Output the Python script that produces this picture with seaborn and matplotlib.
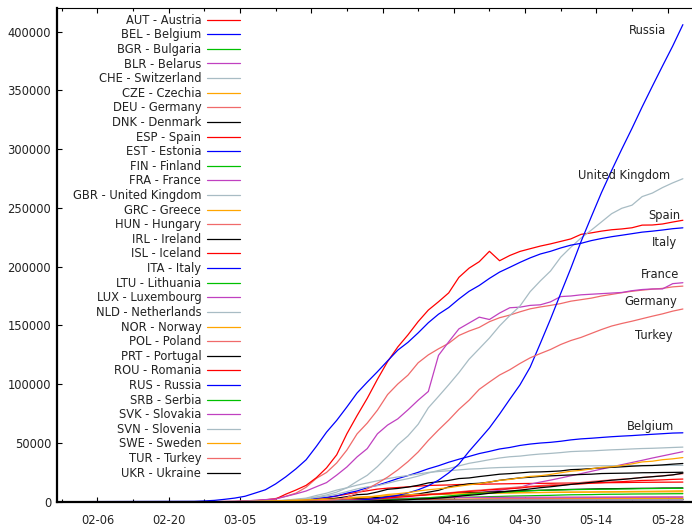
import numpy as np
import pandas as pd
import matplotlib
matplotlib.use("Agg")
import matplotlib.pyplot as plt
import seaborn as sns

# ── Dates: Jan 29, then every 2 days from Feb 25 to May 31 ────────────────────
dates = pd.to_datetime(["2020-01-29"]).append(pd.date_range("2020-02-25", "2020-05-31", freq="2D"))

# ── Cumulative confirmed cases ────────────────────────────────────────────────
AUT = [0, 2, 3, 9, 14, 29, 55, 104, 182, 302,
       655, 1018, 1646, 2388, 3244, 4876, 6398, 7995, 9284,
       10711, 11524, 12051, 12639, 13244, 13806, 14041, 14226, 14595, 14749, 14873, 15002, 15148, 15274, 15402,
       15531, 15621, 15684, 15774, 15833, 15882, 15961, 16058, 16201, 16269, 16404, 16486, 16539, 16591, 16628, 16685]
BEL = [0, 1, 1, 1, 8, 23, 109, 200, 267, 314,
       689, 1243, 1795, 2815, 3743, 4937, 7284, 9134, 11899,
       13964, 16770, 19691, 22194, 24983, 28018, 30589, 33573, 36138, 38496, 40956, 42797, 44858, 46134, 47859,
       49032, 49906, 50509, 51420, 52596, 53449, 53981, 54644, 55280, 55791, 56235, 56810, 57342, 57849, 58381, 58615]
BGR = [0, 0, 0, 0, 0, 0, 0, 4, 6, 7,
       41, 67, 92, 163, 201, 242, 264, 331, 359,
       422, 503, 531, 577, 635, 685, 713, 747, 846, 915, 975, 1097, 1247, 1363, 1447,
       1506, 1594, 1652, 1778, 1921, 1990, 2069, 2138, 2211, 2259, 2292, 2372, 2427, 2460, 2485, 2513]
BLR = [0, 0, 1, 1, 1, 6, 6, 6, 9, 12,
       27, 36, 51, 69, 76, 86, 94, 94, 152,
       152, 351, 562, 861, 1486, 2226, 3281, 4204, 4779, 6264, 7281, 8773, 9590, 11289, 12208,
       14917, 16705, 18350, 20168, 22052, 23906, 25825, 27730, 29650, 31508, 33371, 35208, 37144, 38956, 40764, 42556]
CHE = [0, 1, 8, 18, 42, 90, 214, 337, 491, 858,
       1359, 2200, 3028, 5294, 7245, 9877, 11811, 14076, 15922,
       17768, 19606, 21100, 22242, 23574, 24900, 25688, 26336, 27078, 27740, 28063, 28677, 29061, 29264, 29586,
       29817, 29981, 30060, 30207, 30305, 30380, 30463, 30572, 30618, 30694, 30746, 30796, 30845, 30874, 30913, 30936]
CZE = [0, 0, 0, 0, 3, 5, 12, 31, 41, 94,
       189, 298, 464, 833, 1120, 1497, 1925, 2631, 2990,
       3508, 4190, 4587, 5017, 5569, 5902, 6111, 6433, 6746, 6900, 7033, 7187, 7352, 7445, 7579,
       7689, 7781, 7859, 7979, 8095, 8176, 8269, 8406, 8459, 8586, 8721, 8799, 8890, 9002, 9140, 9268]
DEU = [0, 17, 46, 79, 159, 262, 670, 1040, 1457, 2745,
       4585, 7272, 12327, 19848, 24873, 32986, 43938, 57695, 66885,
       77872, 91159, 100123, 107663, 118181, 124908, 130072, 134753, 141397, 145184, 148291, 153129, 156513, 158758, 161539,
       164077, 165664, 167007, 168551, 170588, 171879, 173171, 174975, 176369, 177778, 179021, 179986, 180789, 181482, 182764, 183410]
DNK = [0, 0, 1, 3, 4, 10, 23, 35, 264, 674,
       836, 898, 1077, 1255, 1514, 1724, 2046, 2395, 2577,
       3107, 3757, 4369, 5071, 5597, 6191, 6511, 6879, 7384, 7695, 7912, 8210, 8575, 8851, 9158,
       9407, 9670, 9938, 10218, 10429, 10591, 10791, 10968, 11044, 11182, 11289, 11387, 11428, 11593, 11633, 11699]
ESP = [0, 6, 15, 45, 120, 165, 261, 674, 1695, 2277,
       6391, 9942, 13910, 20410, 28768, 39885, 57786, 73235, 87956,
       104118, 119199, 131646, 141942, 153222, 163027, 170099, 177644, 190839, 198674, 204178, 213024, 205000, 209465, 212917,
       215216, 217466, 219329, 221447, 223578, 227436, 228691, 230183, 231350, 232037, 233037, 235290, 235400, 236259, 237906, 239429]
EST = [0, 0, 1, 1, 1, 2, 10, 10, 13, 27,
       115, 205, 258, 283, 326, 369, 538, 645, 715,
       779, 961, 1097, 1185, 1258, 1304, 1373, 1434, 1512, 1535, 1552, 1605, 1647, 1660, 1689,
       1700, 1711, 1725, 1733, 1739, 1741, 1751, 1766, 1784, 1791, 1794, 1824, 1834, 1851, 1865, 1870]
FIN = [0, 1, 2, 3, 6, 6, 15, 23, 40, 109,
       225, 272, 359, 450, 626, 792, 958, 1167, 1352,
       1446, 1615, 1927, 2308, 2605, 2905, 3064, 3237, 3681, 3868, 4014, 4284, 4475, 4740, 4906,
       5051, 5254, 5412, 5673, 5880, 5962, 6054, 6228, 6347, 6399, 6537, 6599, 6628, 6692, 6776, 6826]
FRA = [0, 14, 38, 100, 191, 285, 653, 1209, 1784, 2284,
       4499, 6650, 9105, 12726, 16243, 22622, 29551, 38105, 45170,
       57749, 65202, 70478, 78167, 86334, 93790, 124500, 136000, 147000, 152000, 157000, 155000, 160500, 165000, 165500,
       167000, 167500, 170000, 174500, 175000, 176000, 176500, 177000, 177500, 178000, 179500, 180500, 181000, 181000, 185500, 186300]
GBR = [0, 13, 15, 23, 40, 86, 164, 273, 384, 596,
       1143, 1553, 2642, 4014, 5741, 8164, 11812, 17312, 22453,
       29865, 38689, 48436, 55949, 65872, 79874, 89570, 99483, 109769, 121172, 130172, 139246, 149569, 158348, 166441,
       178685, 187842, 196243, 207977, 216525, 224332, 230985, 237972, 244995, 249619, 252246, 259559, 262547, 267240, 271222, 274762]
GRC = [0, 1, 3, 7, 7, 9, 45, 73, 89, 99,
       228, 331, 418, 495, 624, 743, 892, 1061, 1212,
       1415, 1613, 1735, 1832, 1955, 2011, 2145, 2192, 2224, 2235, 2401, 2463, 2506, 2534, 2591,
       2612, 2626, 2663, 2691, 2716, 2744, 2760, 2810, 2834, 2840, 2853, 2873, 2878, 2892, 2909, 2917]
HUN = [0, 0, 0, 0, 0, 2, 4, 9, 12, 16,
       30, 39, 58, 85, 131, 187, 261, 343, 447,
       525, 623, 733, 817, 980, 1310, 1458, 1579, 1763, 1916, 2098, 2284, 2443, 2559, 2727,
       2863, 2998, 3065, 3178, 3263, 3313, 3380, 3473, 3509, 3556, 3598, 3713, 3756, 3793, 3841, 3876]
IRL = [0, 0, 0, 1, 1, 6, 18, 21, 34, 70,
       129, 223, 557, 683, 906, 1329, 1819, 2415, 2910,
       3447, 4273, 4994, 5709, 6574, 8089, 9655, 12547, 13980, 15251, 15652, 16671, 18184, 19262, 20253,
       20833, 21506, 21983, 22385, 22760, 23135, 23401, 23956, 24112, 24251, 24391, 24639, 24698, 24841, 24929, 25062]
ISL = [0, 0, 0, 1, 6, 26, 45, 55, 81, 117,
       156, 180, 250, 409, 568, 648, 802, 963, 1086,
       1220, 1364, 1486, 1616, 1675, 1701, 1711, 1727, 1754, 1771, 1778, 1789, 1790, 1795, 1797,
       1799, 1799, 1801, 1801, 1802, 1802, 1802, 1802, 1802, 1803, 1803, 1804, 1804, 1804, 1805, 1805]
ITA = [0, 322, 655, 1128, 2036, 3089, 4636, 7375, 10149, 15113,
       21157, 27980, 35713, 47021, 59138, 69176, 80589, 92472, 101739,
       110574, 119827, 128948, 135586, 143626, 152271, 159516, 165155, 172434, 178972, 183957, 189973, 195351, 199414, 203591,
       207428, 210717, 213013, 215858, 218268, 219814, 222104, 223885, 225435, 226699, 228006, 229327, 230158, 231139, 232248, 232997]
LTU = [0, 0, 0, 1, 1, 1, 1, 1, 3, 3,
       9, 14, 34, 83, 131, 209, 358, 460, 537,
       581, 696, 811, 880, 955, 1026, 1091, 1149, 1239, 1298, 1350, 1399, 1426, 1410, 1385,
       1399, 1406, 1444, 1479, 1505, 1523, 1534, 1541, 1547, 1562, 1577, 1616, 1639, 1647, 1662, 1682]
LUX = [0, 0, 0, 0, 1, 1, 3, 3, 5, 26,
       38, 81, 210, 484, 798, 1333, 1605, 1831, 1988,
       2319, 2612, 2804, 2970, 3115, 3270, 3292, 3373, 3480, 3550, 3618, 3665, 3711, 3729, 3769,
       3802, 3828, 3840, 3859, 3877, 3888, 3904, 3930, 3945, 3958, 3981, 3993, 4001, 4012, 4016, 4019]
NLD = [0, 0, 1, 6, 18, 38, 128, 265, 382, 503,
       1135, 1705, 2460, 3631, 4764, 6412, 8603, 10866, 12595,
       13614, 15723, 17851, 19580, 21762, 24413, 26551, 28153, 30449, 32655, 34134, 35729, 37190, 38245, 38802,
       39791, 40571, 41087, 41774, 42627, 42984, 43211, 43681, 44141, 44447, 44888, 45236, 45445, 45768, 46126, 46442]
NOR = [0, 0, 1, 19, 25, 56, 113, 176, 277, 621,
       996, 1256, 1550, 1914, 2371, 2866, 3369, 3845, 4284,
       4665, 5147, 5687, 5865, 6211, 6409, 6551, 6740, 7036, 7156, 7338, 7401, 7499, 7599, 7738,
       7783, 7847, 7955, 8034, 8099, 8132, 8157, 8219, 8249, 8267, 8309, 8352, 8383, 8401, 8422, 8437]
POL = [0, 0, 0, 0, 0, 1, 5, 11, 22, 44,
       101, 177, 287, 425, 634, 901, 1221, 1638, 1984,
       2554, 3383, 4102, 4848, 5575, 6356, 6934, 7582, 8379, 9287, 9856, 10511, 11273, 11902, 12640,
       13105, 13693, 14431, 15047, 15651, 16326, 17204, 17921, 18529, 19268, 19739, 20619, 21326, 22074, 22825, 23786]
PRT = [0, 0, 0, 0, 2, 5, 13, 30, 41, 78,
       169, 331, 642, 1280, 2060, 2995, 4268, 5962, 6408,
       8251, 10524, 11278, 12442, 13956, 15987, 16934, 18091, 19685, 20206, 21379, 22353, 23392, 23864, 24505,
       25190, 25351, 25702, 26182, 27268, 27581, 28132, 28810, 29209, 29660, 30200, 30623, 30788, 31292, 31946, 32500]
ROU = [0, 1, 3, 3, 3, 4, 6, 15, 15, 49,
       123, 158, 246, 308, 433, 762, 1029, 1452, 1952,
       2460, 3183, 3864, 4417, 5202, 5990, 6633, 7216, 8067, 8746, 9242, 10096, 10635, 11036, 11616,
       12567, 13163, 13512, 14107, 14811, 15131, 15778, 16247, 16704, 17036, 17585, 18070, 18283, 18594, 18982, 19257]
RUS = [0, 2, 2, 2, 3, 3, 4, 17, 20, 28,
       59, 90, 147, 253, 367, 495, 840, 1264, 1836,
       2777, 4149, 5389, 7497, 10131, 13584, 18328, 24490, 32008, 42853, 52763, 62773, 74588, 87147, 99399,
       114431, 134687, 155370, 177160, 198676, 221344, 242271, 262843, 281752, 299941, 317554, 335882, 353427, 370680, 387623, 405843]
SRB = [0, 0, 0, 0, 0, 0, 1, 1, 5, 24,
       46, 57, 103, 171, 303, 384, 528, 741, 900,
       1060, 1476, 2200, 2447, 2867, 3380, 4054, 4873, 5690, 6318, 6890, 7276, 7779, 8275, 8724,
       9362, 9677, 9848, 10032, 10243, 10374, 10496, 10610, 10699, 10833, 10919, 11092, 11193, 11275, 11354, 11412]
SVK = [0, 0, 0, 0, 0, 0, 1, 3, 7, 16,
       44, 72, 105, 137, 185, 216, 269, 314, 336,
       400, 450, 485, 581, 715, 742, 835, 977, 1089, 1161, 1199, 1244, 1360, 1379, 1396,
       1408, 1413, 1429, 1445, 1455, 1457, 1469, 1480, 1494, 1495, 1502, 1509, 1511, 1513, 1515, 1521]
SVN = [0, 0, 0, 0, 0, 1, 8, 16, 34, 96,
       181, 253, 275, 341, 414, 480, 562, 684, 756,
       841, 934, 997, 1059, 1124, 1188, 1212, 1220, 1268, 1317, 1344, 1366, 1388, 1408, 1429,
       1436, 1439, 1448, 1450, 1454, 1461, 1463, 1464, 1466, 1467, 1468, 1468, 1469, 1469, 1471, 1473]
SWE = [0, 1, 7, 13, 15, 52, 161, 248, 355, 599,
       961, 1103, 1279, 1623, 1934, 2299, 2840, 3447, 3700,
       4947, 6131, 6830, 7693, 9141, 10151, 10948, 11927, 13216, 14385, 15322, 16755, 18177, 18926, 20302,
       21520, 22082, 23216, 24623, 25921, 26670, 27909, 29207, 29677, 30799, 32172, 33843, 34440, 35727, 36476, 37542]
TUR = [0, 0, 0, 0, 0, 0, 0, 0, 0, 1,
       6, 47, 191, 670, 1236, 1872, 3629, 7402, 10827,
       15679, 20921, 27069, 34109, 42282, 52167, 61049, 69392, 78546, 86306, 95591, 101790, 107773, 112261, 117589,
       122392, 126045, 129491, 133721, 137115, 139771, 143114, 146457, 149435, 151615, 153548, 155686, 157814, 159797, 162120, 163942]
UKR = [0, 0, 0, 0, 0, 1, 1, 1, 1, 1,
       3, 7, 14, 26, 47, 84, 156, 356, 548,
       804, 1096, 1308, 1668, 2203, 2511, 3102, 3764, 4662, 5449, 6125, 7170, 8125, 9009, 9866,
       10861, 11913, 12697, 13691, 14710, 15648, 16425, 17330, 18291, 18876, 19706, 20580, 21245, 21905, 22811, 24340]

codes = ["AUT", "BEL", "BGR", "BLR", "CHE", "CZE", "DEU", "DNK", "ESP", "EST", "FIN",
         "FRA", "GBR", "GRC", "HUN", "IRL", "ISL", "ITA", "LTU", "LUX", "NLD", "NOR",
         "POL", "PRT", "ROU", "RUS", "SRB", "SVK", "SVN", "SWE", "TUR", "UKR"]
names = ["Austria", "Belgium", "Bulgaria", "Belarus", "Switzerland", "Czechia", "Germany",
         "Denmark", "Spain", "Estonia", "Finland", "France", "United Kingdom", "Greece",
         "Hungary", "Ireland", "Iceland", "Italy", "Lithuania", "Luxembourg", "Netherlands",
         "Norway", "Poland", "Portugal", "Romania", "Russia", "Serbia", "Slovakia",
         "Slovenia", "Sweden", "Turkey", "Ukraine"]
series = [AUT, BEL, BGR, BLR, CHE, CZE, DEU, DNK, ESP, EST, FIN, FRA, GBR, GRC, HUN, IRL,
          ISL, ITA, LTU, LUX, NLD, NOR, POL, PRT, ROU, RUS, SRB, SVK, SVN, SWE, TUR, UKR]

# end-of-line labels: name, anchor date (right edge), y position
end_labels = [("Russia", "2020-05-27 17:00", 400600),
              ("United Kingdom", "2020-05-28 14:00", 277400),
              ("Spain", "2020-05-30 12:00", 243100),
              ("Italy", "2020-05-29 19:00", 220400),
              ("France", "2020-05-30 07:00", 193500),
              ("Germany", "2020-05-29 19:00", 170300),
              ("Turkey", "2020-05-28 22:00", 141300),
              ("Belgium", "2020-05-29 07:00", 63800)]

base_colors = ["#ff0000", "#0000ff", "#00c000", "#c040c0",
               "#a8bcc4", "#ffa500", "#f06a6a", "#000000"]

labels = [f"{c} - {n}" for c, n in zip(codes, names)]
palette = {lab: base_colors[i % len(base_colors)] for i, lab in enumerate(labels)}

df = pd.concat([pd.DataFrame({"date": dates, "cases": vals, "label": lab})
                for lab, vals in zip(labels, series)], ignore_index=True)

# ── Plot ──────────────────────────────────────────────────────────────────────
sns.set_style("white")
plt.rcParams["font.family"] = ["DejaVu Sans"]
TXT = "#222222"
FS = 8.3

fig = plt.figure(figsize=(6.92, 5.27), dpi=100)
ax = fig.add_axes([56.7 / 692, 25.3 / 527, 635.3 / 692, 493.7 / 527])

sns.lineplot(data=df, x="date", y="cases", hue="label", hue_order=labels,
             palette=palette, linewidth=0.9, legend=False, ax=ax, estimator=None)

ax.set_xlim(pd.Timestamp("2020-01-29"), pd.Timestamp("2020-06-01 19:00"))
ax.set_ylim(0, 420000)
ax.set_xlabel("")
ax.set_ylabel("")

major = pd.date_range("2020-02-06", "2020-05-28", freq="14D")
minor = pd.date_range("2020-01-30", "2020-05-31", freq="14D")
ax.set_xticks(major)
ax.set_xticklabels([d.strftime("%m-%d") for d in major])
ax.set_xticks(minor, minor=True)
ax.set_yticks(np.arange(0, 400001, 50000))
ax.set_yticklabels([str(v) for v in range(0, 400001, 50000)])

ax.tick_params(axis="both", which="both", direction="in", colors="black",
               labelcolor=TXT, labelsize=FS)
ax.tick_params(axis="x", which="both", top=True, bottom=True)
ax.tick_params(axis="x", which="major", length=3.5, width=0.8, pad=8.5)
ax.tick_params(axis="x", which="minor", length=2.2, width=0.8)
ax.tick_params(axis="y", which="major", left=True, right=False, length=3.5, width=0.8, pad=4)

for side in ["left", "bottom"]:
    ax.spines[side].set_linewidth(1.6)
    ax.spines[side].set_color("black")
ax.spines["top"].set_linewidth(0.8)
ax.spines["top"].set_color("black")
ax.spines["right"].set_visible(False)

leg = ax.legend(ax.get_lines()[:len(labels)], labels, loc="upper right",
                bbox_to_anchor=(0.2885, 0.9885), markerfirst=False, frameon=False,
                handlelength=2.9, handletextpad=0.45, labelspacing=0.14,
                borderpad=0, borderaxespad=0, fontsize=FS)
for t in leg.get_texts():
    t.set_color(TXT)

for name, when, yv in end_labels:
    ax.text(pd.Timestamp(when), yv, name, ha="right", va="center", fontsize=FS, color=TXT)

fig.savefig("out.png", dpi=100)
